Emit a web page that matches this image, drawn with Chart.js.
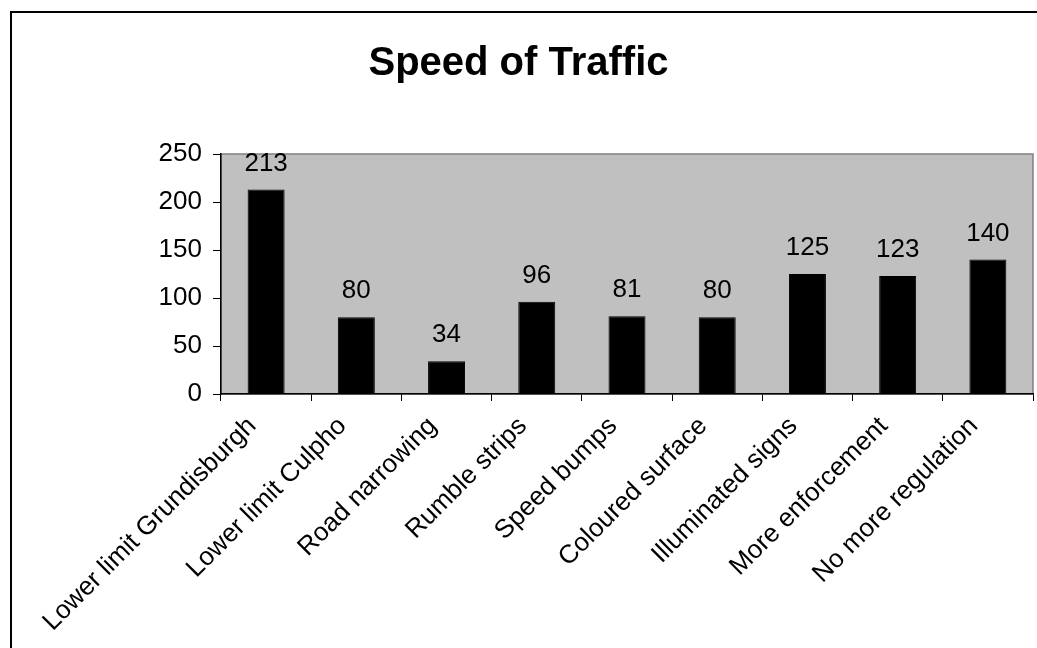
<!DOCTYPE html>
<html><head><meta charset="utf-8">
<script src="https://cdn.jsdelivr.net/npm/chart.js@4/dist/chart.umd.min.js"></script>
<style>html,body{margin:0;padding:0;background:#fff;}#wrap{width:1037px;height:648px;position:relative;}</style>
</head><body><div id="wrap"><canvas id="c" width="1037" height="648"></canvas></div>
<script>
const categories = ["Lower limit Grundisburgh","Lower limit Culpho","Road narrowing","Rumble strips","Speed bumps","Coloured surface","Illuminated signs","More enforcement","No more regulation"];
const values = [213, 80, 34, 96, 81, 80, 125, 123, 140];
const yTicks = [0, 50, 100, 150, 200, 250];
const titleText = "Speed of Traffic";
const FONT = "'Liberation Sans', Arial, sans-serif";

const framePlugin = {
  id: 'frame',
  beforeDraw(chart) {
    const ctx = chart.ctx;
    ctx.save();
    ctx.fillStyle = '#fff';
    ctx.fillRect(0, 0, chart.width, chart.height);
    ctx.strokeStyle = '#000';
    ctx.lineWidth = 2;
    ctx.beginPath();
    ctx.moveTo(11, chart.height + 2);
    ctx.lineTo(11, 12);
    ctx.lineTo(chart.width + 2, 12);
    ctx.stroke();
    const a = chart.chartArea;
    ctx.fillStyle = '#C0C0C0';
    ctx.fillRect(a.left, a.top, a.right - a.left, a.bottom - a.top);
    ctx.strokeStyle = '#808080';
    ctx.lineWidth = 1.5;
    ctx.strokeRect(a.left, a.top, a.right - a.left, a.bottom - a.top);
    ctx.restore();
  },
  afterDatasetsDraw(chart) {
    const ctx = chart.ctx;
    const meta = chart.getDatasetMeta(0);
    ctx.save();
    ctx.fillStyle = '#000';
    ctx.font = '26px ' + FONT;
    ctx.textAlign = 'center';
    ctx.textBaseline = 'alphabetic';
    meta.data.forEach((el, i) => {
      ctx.fillText(String(values[i]), el.x, el.y - 19);
    });
    ctx.restore();
  }
};

new Chart(document.getElementById('c'), {
  type: 'bar',
  data: {
    labels: categories,
    datasets: [{
      data: values,
      backgroundColor: '#000',
      borderColor: '#000',
      borderWidth: 1,
      barPercentage: 0.41,
      categoryPercentage: 1.0
    }]
  },
  options: {
    responsive: false,
    animation: false,
    devicePixelRatio: 1,
    layout: { padding: { left: 4, right: 4, top: 12, bottom: 0 } },
    plugins: {
      legend: { display: false },
      tooltip: { enabled: false },
      title: {
        display: true,
        text: titleText,
        color: '#000',
        font: { family: FONT, size: 40, weight: 'bold', lineHeight: 1.2 },
        padding: { top: 28, bottom: 66 }
      }
    },
    scales: {
      x: {
        grid: { display: true, drawOnChartArea: false, drawTicks: true, tickLength: 7, color: '#000', offset: true },
        border: { display: true, color: '#000', width: 1.5 },
        ticks: {
          color: '#000',
          font: { family: FONT, size: 26 },
          maxRotation: 45, minRotation: 45,
          autoSkip: false,
          padding: 10,
          labelOffset: -14
        },
        afterFit(scale) { scale.height = 254; }
      },
      y: {
        min: 0, max: 250,
        afterBuildTicks(scale) { scale.ticks = yTicks.map(v => ({ value: v })); },
        grid: { display: true, drawOnChartArea: false, drawTicks: true, tickLength: 8, color: '#000' },
        border: { display: true, color: '#000', width: 1.5 },
        ticks: {
          color: '#000',
          font: { family: FONT, size: 26 },
          padding: 11
        },
        afterFit(scale) { scale.width = 217; }
      }
    }
  },
  plugins: [framePlugin]
});
</script>
</body></html>
